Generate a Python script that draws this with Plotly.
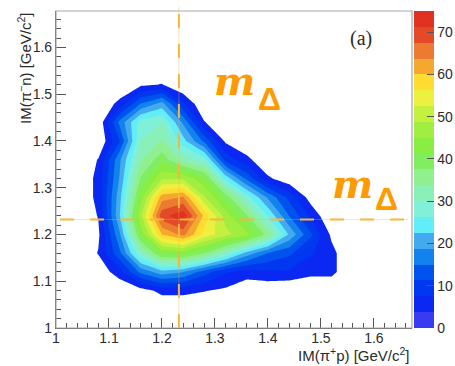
import plotly.graph_objects as go

# Bin centres [GeV/c^2]
im_pip_p = [1.04, 1.08, 1.12, 1.16, 1.20, 1.24, 1.28, 1.32, 1.36, 1.40, 1.44, 1.48, 1.52, 1.56]
im_pim_n = [1.04, 1.08, 1.12, 1.16, 1.20, 1.24, 1.28, 1.32, 1.36, 1.40, 1.44, 1.48, 1.52, 1.56]

# Counts per bin; one row per IM(pi- n) bin, columns follow IM(pi+ p)
counts = [
    [0, 0,   0,  0,  0,  0,  0,  0,   0,   0,   0,  0, 0, 0],
    [0, 0,   0,  2,  5,  5,  4,  3,   0.5, 0.5, 0,  0, 0, 0],
    [0, 1,   6, 16, 21, 19, 13,  8,   6,   7,   7,  5, 5, 0],
    [0, 4,  14, 30, 42, 43, 38, 30,  21,  15,  12,  8, 5, 0],
    [0, 3,  18, 42, 60, 65, 55, 50,  46,  36,  22, 12, 3, 0],
    [0, 4,  22, 48, 70, 74, 59, 47,  38,  26,  15,  7, 0, 0],
    [0, 5,  21, 43, 62, 64, 49, 40,  28,  18,  10,  2, 0, 0],
    [0, 5,  19, 38, 48, 48, 42, 25,  14,   4.5, 1,  0, 0, 0],
    [0, 4,  18, 33, 40, 32, 28, 10,   5,   0,   0,  0, 0, 0],
    [0, 0,  11, 30, 34, 24, 14,  3,   0,   0,   0,  0, 0, 0],
    [0, 0.5, 16, 28, 30, 18, 4,  0,   0,   0,   0,  0, 0, 0],
    [0, 0,   5, 15, 20,  8,  0,  0,   0,   0,   0,  0, 0, 0],
    [0, 0,   0,  3,  4,  0,  0,  0,   0,   0,   0,  0, 0, 0],
    [0, 0,   0,  0,  0,  0,  0,  0,   0,   0,   0,  0, 0, 0],
]

# Delta(1232) nominal mass [GeV/c^2]
M_DELTA = 1.232

# Axis / colour-scale settings
X_RANGE = [1.0, 1.672]
Y_RANGE = [1.0, 1.678]
Z_MAX = 75.0
N_LEVELS = 20
LEVEL_STEP = Z_MAX / N_LEVELS
cbar_ticks = [0, 10, 20, 30, 40, 50, 60, 70]
axis_ticks = [1.0, 1.1, 1.2, 1.3, 1.4, 1.5, 1.6]
axis_ticktext = ["1", "1.1", "1.2", "1.3", "1.4", "1.5", "1.6"]

# One colour per contour band, lowest band first
band_colors = [
    "#3a3af0", "#0a28f2", "#0038f0", "#0052ee", "#1282ee",
    "#44aaf0", "#62eef8", "#80f0d8", "#8af0b8", "#90f090",
    "#80ee60", "#88ee42", "#a2ee40", "#c4f040", "#eef040",
    "#ffdc32", "#f4a830", "#ec7a30", "#e24a28", "#e03222",
]

W, H = 455, 366
ML, MR, MT, MB = 56, 43, 11, 38
PW, PH = W - ML - MR, H - MT - MB


def px_x(p):
    return (p - ML) / PW


def px_y(p):
    return (H - MB - p) / PH


# contour fill: band below the first level stays white
n = len(band_colors)
fill_scale = [[j / (n - 1), ("#ffffff" if j == 0 else band_colors[j])] for j in range(n)]

# stepped scale for the colour bar
bar_scale = []
for j, c in enumerate(band_colors):
    bar_scale.append([j / n, c])
    bar_scale.append([(j + 1) / n, c])

font_main = "Liberation Sans, Arial, sans-serif"
text_col = "#2b2b2b"

fig = go.Figure()

fig.add_trace(go.Contour(
    x=im_pip_p, y=im_pim_n, z=counts,
    autocontour=False,
    contours=dict(start=LEVEL_STEP, end=Z_MAX - LEVEL_STEP, size=LEVEL_STEP,
                  coloring="fill", showlines=False),
    line=dict(width=0, smoothing=0),
    colorscale=fill_scale,
    showscale=False,
    hoverinfo="skip",
))

# invisible markers carrying the colour bar
fig.add_trace(go.Scatter(
    x=[X_RANGE[0], X_RANGE[0]], y=[Y_RANGE[0], Y_RANGE[0]],
    mode="markers",
    marker=dict(
        color=[0, Z_MAX], cmin=0, cmax=Z_MAX, colorscale=bar_scale, opacity=0, size=1,
        showscale=True,
        colorbar=dict(
            x=px_x(414), xanchor="left", xpad=0,
            y=0.5, yanchor="middle", len=1, lenmode="fraction", ypad=0,
            thickness=20, thicknessmode="pixels",
            outlinewidth=0,
            tickmode="array", tickvals=cbar_ticks,
            ticks="inside", ticklen=7, tickcolor="#555555", tickwidth=1,
            tickfont=dict(family=font_main, size=14, color=text_col),
        ),
    ),
    hoverinfo="skip", showlegend=False,
))

axis_common = dict(
    showgrid=False, zeroline=False,
    showline=True, linecolor="#555555", linewidth=1.2,
    ticks="inside", ticklen=10, tickwidth=1, tickcolor="#555555",
    tickmode="array", tickvals=axis_ticks, ticktext=axis_ticktext,
    tickfont=dict(family=font_main, size=14, color=text_col),
    minor=dict(dtick=0.02, tick0=1.0, ticks="inside", ticklen=5,
               tickcolor="#555555", tickwidth=1),
)

fig.update_xaxes(range=X_RANGE, ticklabelstandoff=-3, **axis_common)
fig.update_yaxes(range=Y_RANGE, **axis_common)

dash_style = "14px,16px"
shapes = [
    # plot frame
    dict(type="rect", xref="paper", yref="paper", x0=0, x1=1, y0=0, y1=1,
         line=dict(color="#a8a8a8", width=1.2), layer="above"),
    # faint guide + dashes at m_Delta (vertical)
    dict(type="line", xref="x", yref="paper", x0=M_DELTA, x1=M_DELTA,
         y0=0, y1=px_y(7), line=dict(color="rgba(247,181,58,0.35)", width=1), layer="above"),
    dict(type="line", xref="x", yref="paper", x0=M_DELTA, x1=M_DELTA,
         y0=0, y1=px_y(7), line=dict(color="#f7b53a", width=2, dash=dash_style), layer="above"),
    # faint guide + dashes at m_Delta (horizontal)
    dict(type="line", xref="paper", yref="y", x0=px_x(60), x1=px_x(408),
         y0=M_DELTA, y1=M_DELTA, line=dict(color="rgba(247,181,58,0.35)", width=1), layer="above"),
    dict(type="line", xref="paper", yref="y", x0=px_x(60), x1=px_x(408),
         y0=M_DELTA, y1=M_DELTA, line=dict(color="#f7b53a", width=2, dash=dash_style), layer="above"),
]

orange = "#ff9a00"
annotations = [
    dict(text="IM(π<sup>+</sup>p) [GeV/c<sup>2</sup>]", xref="paper", yref="paper",
         x=1.0, y=px_y(354), xanchor="right", yanchor="middle", showarrow=False,
         font=dict(family=font_main, size=15, color=text_col)),
    dict(text="IM(π<sup>−</sup>n) [GeV/c<sup>2</sup>]", xref="paper", yref="paper",
         x=px_x(24), y=px_y(10), xanchor="center", yanchor="top", textangle=-90,
         showarrow=False, font=dict(family=font_main, size=15, color=text_col)),
    dict(text="(a)", xref="paper", yref="paper", x=px_x(361), y=px_y(38),
         xanchor="center", yanchor="middle", showarrow=False,
         font=dict(family="Liberation Serif, serif", size=20, color=text_col)),
]
for mx, my, dx, dy in [(235, 81, 269, 99), (352, 184, 386, 198.5)]:
    annotations.append(dict(text="<b><i>m</i></b>", xref="paper", yref="paper",
                            x=px_x(mx), y=px_y(my), xanchor="center", yanchor="middle",
                            showarrow=False,
                            font=dict(family="DejaVu Serif, serif", size=39, color=orange)))
    annotations.append(dict(text="<b>Δ</b>", xref="paper", yref="paper",
                            x=px_x(dx), y=px_y(dy), xanchor="center", yanchor="middle",
                            showarrow=False,
                            font=dict(family="Liberation Sans, Arial, sans-serif", size=32,
                                      color=orange)))

fig.update_layout(
    width=W, height=H,
    margin=dict(l=ML, r=MR, t=MT, b=MB, pad=0, autoexpand=False),
    paper_bgcolor="white", plot_bgcolor="white",
    showlegend=False,
    shapes=shapes,
    annotations=annotations,
    font=dict(family=font_main, color=text_col),
)

fig.write_html("out.html")
